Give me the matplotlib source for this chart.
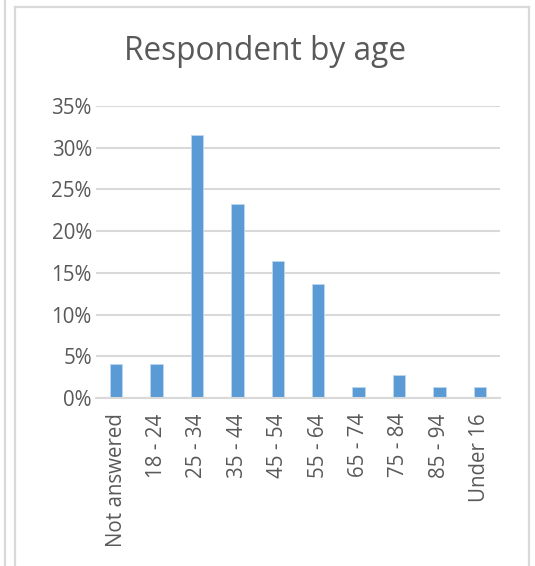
import matplotlib
matplotlib.use("Agg")
import matplotlib.pyplot as plt
from matplotlib.lines import Line2D
from matplotlib.ticker import FuncFormatter

age_groups = ["Not answered", "18 - 24", "25 - 34", "35 - 44", "45 - 54",
              "55 - 64", "65 - 74", "75 - 84", "85 - 94", "Under 16"]
share_pct = [4.11, 4.11, 31.51, 23.29, 16.44, 13.70, 1.37, 2.74, 1.37, 1.37]
y_ticks = [0, 5, 10, 15, 20, 25, 30, 35]

TEXT = "#595959"
GRID = "#D9D9D9"
BAR = "#5B9BD5"

plt.rcParams["font.family"] = ["Open Sans", "DejaVu Sans"]

W, H = 535, 566
fig = plt.figure(figsize=(W / 100, H / 100), dpi=100)
ax = fig.add_axes([96 / W, 1 - 398 / H, 404 / W, 292 / H])

x = range(len(age_groups))
ax.bar(x, share_pct, width=0.31, color=BAR, edgecolor="#BDD7EE",
       linewidth=0.6, zorder=3)

ax.set_xlim(-0.5, len(age_groups) - 0.5)
ax.set_ylim(0, 35)
ax.set_yticks(y_ticks)
ax.yaxis.set_major_formatter(FuncFormatter(lambda v, _: "{:.0f}%".format(v)))
ax.set_xticks(list(x))
ax.set_xticklabels(age_groups, rotation=90, ha="center", va="top")

ax.grid(axis="y", color=GRID, linewidth=1.5, zorder=0)
for side in ["top", "right", "left"]:
    ax.spines[side].set_visible(False)
ax.spines["bottom"].set_color(GRID)
ax.spines["bottom"].set_linewidth(1.5)
ax.spines["bottom"].set_zorder(4)

ax.tick_params(axis="both", length=0, labelsize=14.8, labelcolor=TEXT)
ax.tick_params(axis="y", pad=3)
ax.tick_params(axis="x", pad=11)

fig.text(265 / W, 1 - 51 / H, "Respondent by age", ha="center", va="center",
         fontsize=22.8, color=TEXT)

# frame lines around the chart like the spreadsheet export
def px_line(x0, y0, x1, y1):
    fig.add_artist(Line2D([x0 / W, x1 / W], [1 - y0 / H, 1 - y1 / H],
                          transform=fig.transFigure, color=GRID, linewidth=1.6))

px_line(4.5, 0, 4.5, H)
px_line(14.5, 7, 14.5, H)
px_line(14.5, 7, 528.5, 7)
px_line(528.5, 7, 528.5, H)

fig.savefig("out.png", dpi=100)
